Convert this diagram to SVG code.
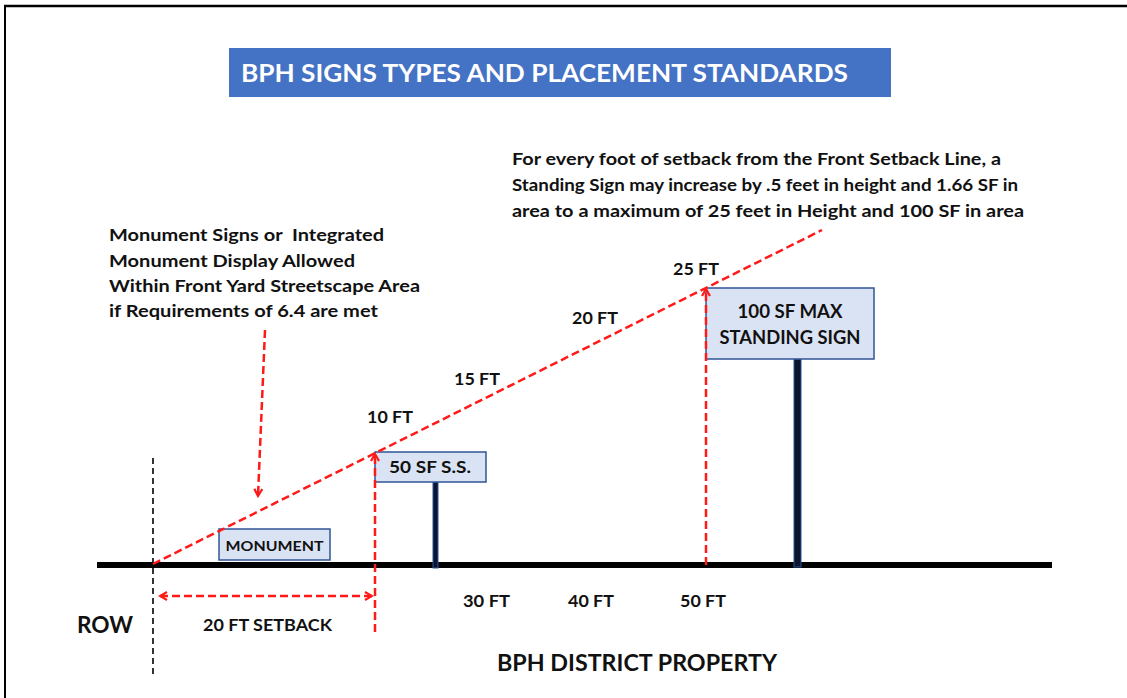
<svg xmlns="http://www.w3.org/2000/svg" width="1127" height="698" viewBox="0 0 1127 698">
<defs>
<style>
.t{font-family:Lato,"Open Sans","Liberation Sans",sans-serif;font-weight:bold;fill:#111;}
.red{stroke:#FF1A1A;stroke-width:2.5;stroke-dasharray:8 4;fill:none;}
.box{fill:#DAE3F3;stroke:#2F5597;stroke-width:1.5;}
.post{fill:#0B1530;stroke:#2F5597;stroke-width:1;}
</style>
<marker id="ah" markerWidth="10" markerHeight="10" refX="8" refY="5" orient="auto-start-reverse" markerUnits="userSpaceOnUse">
<path d="M1,1 L8,5 L1,9" fill="none" stroke="#FF1A1A" stroke-width="2.2"/>
</marker>
</defs>
<rect width="1127" height="698" fill="#fff"/>
<g id="frame">
<line x1="4" y1="6" x2="1127" y2="6" stroke="#000" stroke-width="2.5"/>
<line x1="5" y1="5" x2="5" y2="698" stroke="#000" stroke-width="2"/>
</g>
<g id="title">
<rect x="229" y="48" width="662" height="49" fill="#4472C4"/>
<text x="241" y="82" class="t" style="fill:#fff" font-size="24" textLength="607" lengthAdjust="spacingAndGlyphs">BPH SIGNS TYPES AND PLACEMENT STANDARDS</text>
</g>
<g id="ground">
<line x1="97" y1="565" x2="1052" y2="565" stroke="#000" stroke-width="6"/>
<line x1="153" y1="458" x2="153" y2="678" stroke="#000" stroke-width="1.6" stroke-dasharray="6 4"/>
</g>
<g id="monument">
<rect class="box" x="219" y="529" width="111" height="31"/>
<text class="t" x="274.5" y="551" font-size="14" text-anchor="middle" textLength="98" lengthAdjust="spacingAndGlyphs">MONUMENT</text>
</g>
<g id="sign50">
<rect class="post" x="433" y="482" width="5" height="86"/>
<rect class="box" x="375" y="452" width="111" height="30"/>
<text class="t" x="430" y="473" font-size="17" text-anchor="middle" textLength="82" lengthAdjust="spacingAndGlyphs">50 SF S.S.</text>
</g>
<g id="sign100">
<rect class="post" x="794" y="359" width="7" height="208"/>
<rect class="box" x="706" y="288" width="168" height="71"/>
<text class="t" x="790" y="318" font-size="18" text-anchor="middle" textLength="105" lengthAdjust="spacingAndGlyphs">100 SF MAX</text>
<text class="t" x="790" y="344" font-size="18" text-anchor="middle" textLength="141" lengthAdjust="spacingAndGlyphs">STANDING SIGN</text>
</g>
<g id="connectors">
<line class="red" x1="153" y1="564" x2="822" y2="230"/>
<line class="red" x1="265" y1="330" x2="258" y2="496" marker-end="url(#ah)"/>
<line class="red" x1="160" y1="596" x2="372" y2="596" marker-start="url(#ah)" marker-end="url(#ah)"/>
<line class="red" x1="375" y1="632" x2="375" y2="454" marker-end="url(#ah)"/>
<line class="red" x1="706" y1="565" x2="706" y2="289" marker-end="url(#ah)"/>
</g>
<g id="heights" class="t" font-size="17">
<text x="367" y="423" textLength="46" lengthAdjust="spacingAndGlyphs">10 FT</text>
<text x="454" y="385" textLength="46" lengthAdjust="spacingAndGlyphs">15 FT</text>
<text x="572" y="324" textLength="46" lengthAdjust="spacingAndGlyphs">20 FT</text>
<text x="673" y="275" textLength="46" lengthAdjust="spacingAndGlyphs">25 FT</text>
</g>
<g id="distances" class="t" font-size="17">
<text x="463" y="607" textLength="47" lengthAdjust="spacingAndGlyphs">30 FT</text>
<text x="568" y="607" textLength="46" lengthAdjust="spacingAndGlyphs">40 FT</text>
<text x="680" y="607" textLength="46" lengthAdjust="spacingAndGlyphs">50 FT</text>
<text x="203" y="631" textLength="129" lengthAdjust="spacingAndGlyphs">20 FT SETBACK</text>
</g>
<g id="labels" class="t">
<text x="77" y="633" font-size="22" textLength="56" lengthAdjust="spacingAndGlyphs">ROW</text>
<text x="497" y="671" font-size="22" textLength="280" lengthAdjust="spacingAndGlyphs">BPH DISTRICT PROPERTY</text>
</g>
<g id="note-left" class="t" font-size="17">
<text x="109" y="241" xml:space="preserve" textLength="275" lengthAdjust="spacingAndGlyphs">Monument Signs or  Integrated</text>
<text x="109" y="267" textLength="246" lengthAdjust="spacingAndGlyphs">Monument Display Allowed</text>
<text x="109" y="292" textLength="311" lengthAdjust="spacingAndGlyphs">Within Front Yard Streetscape Area</text>
<text x="109" y="317" textLength="269" lengthAdjust="spacingAndGlyphs">if Requirements of 6.4 are met</text>
</g>
<g id="note-right" class="t" font-size="17">
<text x="512" y="165" textLength="489" lengthAdjust="spacingAndGlyphs">For every foot of setback from the Front Setback Line, a</text>
<text x="512" y="191" textLength="506" lengthAdjust="spacingAndGlyphs">Standing Sign may increase by .5 feet in height and 1.66 SF in</text>
<text x="512" y="217" textLength="512" lengthAdjust="spacingAndGlyphs">area to a maximum of 25 feet in Height and 100 SF in area</text>
</g>
</svg>
